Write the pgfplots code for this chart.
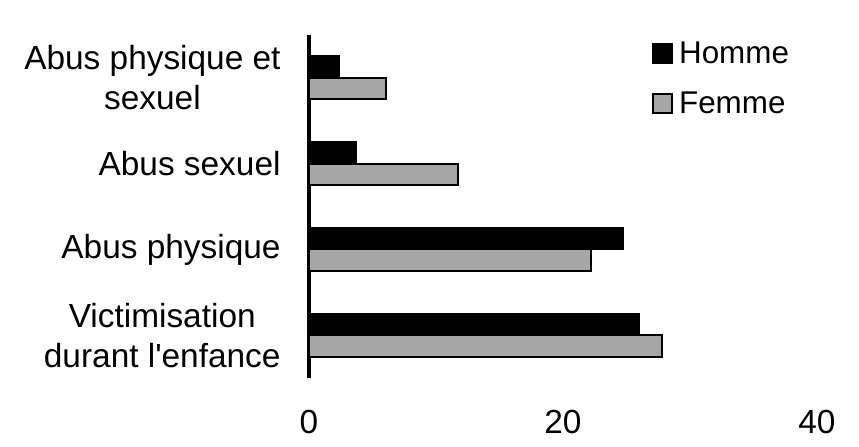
\documentclass[border=0pt]{standalone}
\usepackage{pgfplots}
\pgfplotsset{compat=1.18}
\usepackage{fontspec}
\setmainfont{Liberation Sans}
\definecolor{femme}{HTML}{A6A6A6}
\begin{document}
\begin{tikzpicture}[x=1bp,y=1bp]
\path[use as bounding box] (0,0) rectangle (429.5,223.5);
\begin{axis}[
  at={(154.5bp,34.5bp)}, anchor=south west,
  scale only axis, width=254bp, height=171.5bp,
  xbar, bar width=0.25,
  xmin=0, xmax=40, ymin=-0.5, ymax=3.5, y dir=reverse,
  xtick={0,20,40}, ytick={0,1,2,3},
  yticklabels={{Abus physique et\\sexuel},{Abus sexuel},{Abus physique},{Victimisation\\durant l\textquotesingle enfance}},
  axis x line*=bottom, axis y line*=left,
  x axis line style={draw=none},
  y axis line style={line width=2bp, -},
  major tick length=0,
  tick label style={font=\fontsize{16.7bp}{20bp}\selectfont},
  /pgf/number format/assume math mode=true,
  xticklabel style={yshift=-12.7bp},
  yticklabel style={align=center, xshift=-10.7bp},
  legend style={draw=none, fill=none, at={(axis description cs:0.675,0.994)}, anchor=north west,
    font=\fontsize{15.7bp}{19bp}\selectfont, row sep=8.8bp, inner sep=0pt},
  legend cell align=left,
  legend image code/.code={\draw[#1, line width=1bp] (0bp,-4.75bp) rectangle (9.5bp,4.75bp); \path (10.4bp,0bp);},
]
\addplot[draw=black, fill=black, line width=1bp, bar shift=-0.125]
  coordinates {(2.4,0) (3.7,1) (24.7,2) (26.0,3)};
\addlegendentry{Homme}
\addplot[draw=black, fill=femme, line width=1bp, bar shift=0.125]
  coordinates {(6.1,0) (11.7,1) (22.2,2) (27.8,3)};
\addlegendentry{Femme}
\end{axis}
\end{tikzpicture}
\end{document}
